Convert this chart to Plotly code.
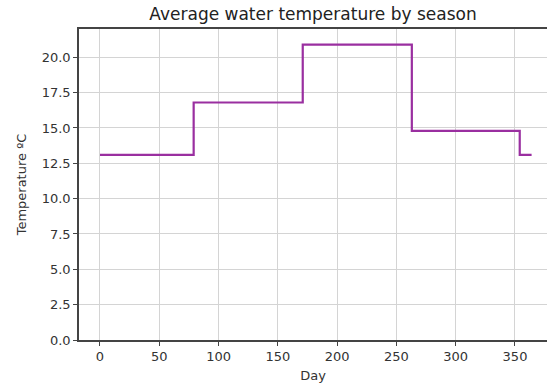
import plotly.graph_objects as go

# Seasonal average water temperature, held constant across each season
season_start_day = [0, 79, 171, 263, 354, 364]
temperature_c = [13.1, 16.8, 20.9, 14.8, 13.1, 13.1]

x_ticks = [0, 50, 100, 150, 200, 250, 300, 350]
y_ticks = [0.0, 2.5, 5.0, 7.5, 10.0, 12.5, 15.0, 17.5, 20.0]

fig = go.Figure()
fig.add_trace(go.Scatter(
    x=season_start_day,
    y=temperature_c,
    mode="lines",
    line=dict(shape="hv", color="#9a2fa0", width=2.2),
    showlegend=False,
))

axis_font = dict(family="DejaVu Sans", size=13, color="#333333")

fig.update_layout(
    width=547,
    height=387,
    margin=dict(l=79, r=0, t=29, b=47),
    paper_bgcolor="white",
    plot_bgcolor="white",
    font=dict(family="DejaVu Sans", color="#333333"),
    title=dict(
        text="Average water temperature by season",
        x=0.5, xanchor="center",
        y=1 - 14 / 387, yanchor="middle",
        xref="paper",
        font=dict(family="DejaVu Sans", size=17, color="#222222"),
    ),
    xaxis=dict(
        range=[-17.7, 377],
        tickvals=x_ticks,
        ticktext=[str(v) for v in x_ticks],
        showgrid=True, gridcolor="#d4d4d4", gridwidth=1.2,
        showline=True, linecolor="#444444", linewidth=1.5, mirror=True,
        ticks="outside", ticklen=4, tickcolor="#444444",
        tickfont=axis_font,
        zeroline=False,
        title=dict(text="Day", font=dict(family="DejaVu Sans", size=13, color="#333333"), standoff=8),
    ),
    yaxis=dict(
        range=[0, 22],
        tickvals=y_ticks,
        ticktext=[f"{v:.1f}" for v in y_ticks],
        showgrid=True, gridcolor="#d4d4d4", gridwidth=1.2,
        showline=True, linecolor="#444444", linewidth=1.5,
        ticks="outside", ticklen=4, tickcolor="#444444",
        tickfont=axis_font,
        zeroline=False,
        title=dict(text="Temperature ºC", font=dict(family="DejaVu Sans", size=13, color="#333333"), standoff=12),
    ),
)

fig.write_html("out.html")
